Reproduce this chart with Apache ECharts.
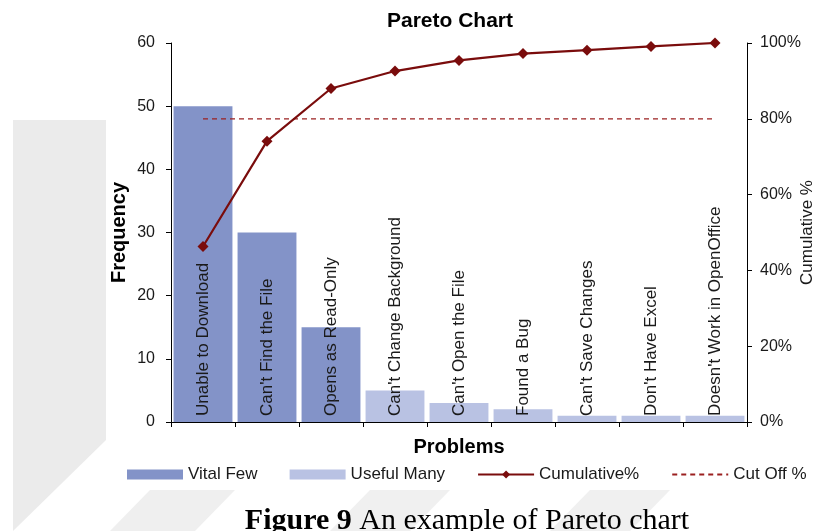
<!DOCTYPE html>
<html>
<head>
<meta charset="utf-8">
<script src="https://cdn.jsdelivr.net/npm/echarts@6/dist/echarts.min.js"></script>
<style>
    html, body { margin: 0; padding: 0; background: #fff; }
    #chart { width: 816px; height: 531px; }
</style>
</head>
<body>
<div id="chart"></div>
<script>
const problems = ['Unable to Download', "Can't Find the File", 'Opens as Read-Only', "Can't Change Background",
    "Can't Open the File", 'Found a Bug', "Can't Save Changes", "Don't Have Excel", "Doesn't Work in OpenOffice"];
const vitalFew = [50, 30, 15, '-', '-', '-', '-', '-', '-'];
const usefulMany = ['-', '-', '-', 5, 3, 2, 1, 1, 1];
const cumulative = [46.3, 74.1, 88.0, 92.6, 95.4, 97.2, 98.1, 99.1, 100];
const cutOff = [80, 80, 80, 80, 80, 80, 80, 80, 80];
const freqTicks = { min: 0, max: 60, interval: 10 };
const pctTicks = { min: 0, max: 100, interval: 20 };

const chart = echarts.init(document.getElementById('chart'));
const font = 'Liberation Sans, Arial, sans-serif';

// category names are written inside the bars, bottom to top
const catLabel = {
    show: true,
    position: 'insideBottom',
    rotate: 90,
    align: 'left',
    verticalAlign: 'middle',
    distance: 6,
    color: '#1a1a1a',
    fontSize: 17,
    fontFamily: font,
    formatter: (p) => p.name,
};

const option = {
    backgroundColor: '#fff',
    textStyle: { fontFamily: font },
    title: {
        text: 'Pareto Chart',
        left: 445,
        textAlign: 'center',
        top: 6,
        textStyle: { fontSize: 21, fontWeight: 'bold', color: '#000', fontFamily: font },
    },
    graphic: [
        // faint watermark shapes in the background
        { type: 'polygon', z: -10, shape: { points: [[13, 120], [106, 120], [106, 440], [13, 531]] }, style: { fill: '#ebebeb' } },
        { type: 'polygon', z: -10, shape: { points: [[150, 490], [235, 490], [195, 531], [110, 531]] }, style: { fill: '#efefef' } },
        { type: 'polygon', z: -10, shape: { points: [[370, 490], [450, 490], [410, 531], [330, 531]] }, style: { fill: '#f0f0f0' } },
        { type: 'polygon', z: -10, shape: { points: [[590, 490], [670, 490], [630, 531], [550, 531]] }, style: { fill: '#f0f0f0' } },
        {
            type: 'text',
            x: 467,
            y: 506,
            style: {
                text: '{b|Figure 9} An example of Pareto chart',
                font: '30px "Liberation Serif", "Times New Roman", serif',
                fill: '#000',
                align: 'center',
                verticalAlign: 'top',
                rich: { b: { fontWeight: 'bold', fontSize: 30, fontFamily: 'Liberation Serif' } },
            },
        },
    ],
    legend: {
        left: 122,
        top: 461,
        itemWidth: 56,
        itemHeight: 10,
        itemGap: 32,
        textStyle: { fontSize: 17, color: '#1a1a1a', fontFamily: font },
        data: [
            { name: 'Vital Few', icon: 'rect' },
            { name: 'Useful Many', icon: 'rect' },
            'Cumulative%',
            { name: 'Cut Off %', itemStyle: { opacity: 0 } },
        ],
    },
    grid: { left: 171, right: 69, top: 43, bottom: 109, containLabel: false, outerBoundsMode: 'none' },
    xAxis: {
        type: 'category',
        data: problems,
        name: 'Problems',
        nameLocation: 'middle',
        nameGap: 15,
        nameMoveOverlap: false,
        nameTextStyle: { fontSize: 20, fontWeight: 'bold', color: '#000' },
        axisLine: { lineStyle: { color: '#000', width: 1 } },
        axisTick: { show: true, interval: 0, length: 5, lineStyle: { color: '#000' } },
        axisLabel: { show: false },
    },
    yAxis: [
        {
            type: 'value',
            ...freqTicks,
            name: 'Frequency',
            nameLocation: 'middle',
            nameGap: 42,
            nameMoveOverlap: false,
            nameTextStyle: { fontSize: 20, fontWeight: 'bold', color: '#000' },
            axisLine: { show: true, lineStyle: { color: '#000' } },
            axisTick: { show: true, length: 5, lineStyle: { color: '#000' } },
            axisLabel: { fontSize: 16, color: '#1a1a1a', margin: 16 },
            splitLine: { show: false },
        },
        {
            type: 'value',
            ...pctTicks,
            name: 'Cumulative %',
            nameLocation: 'middle',
            nameGap: 52,
            nameMoveOverlap: false,
            nameTextStyle: { fontSize: 17, color: '#1a1a1a' },
            axisLine: { show: true, lineStyle: { color: '#000' } },
            axisTick: { show: true, length: 5, lineStyle: { color: '#000' } },
            axisLabel: { fontSize: 16, color: '#1a1a1a', margin: 13, formatter: '{value}%' },
            splitLine: { show: false },
        },
    ],
    series: [
        {
            name: 'Vital Few',
            type: 'bar',
            stack: 'freq',
            barCategoryGap: '8%',
            data: vitalFew,
            itemStyle: { color: '#8393c8' },
            label: catLabel,
        },
        {
            name: 'Useful Many',
            type: 'bar',
            stack: 'freq',
            data: usefulMany,
            itemStyle: { color: '#b9c2e3' },
            label: catLabel,
        },
        {
            name: 'Cut Off %',
            type: 'line',
            yAxisIndex: 1,
            data: cutOff,
            symbol: 'none',
            lineStyle: { color: '#9b2020', width: 1.2, type: [5, 4] },
            itemStyle: { color: '#9b2020' },
            z: 3,
        },
        {
            name: 'Cumulative%',
            type: 'line',
            yAxisIndex: 1,
            data: cumulative,
            symbol: 'diamond',
            symbolSize: 11,
            lineStyle: { color: '#7a0c0c', width: 2.2 },
            itemStyle: { color: '#7a0c0c' },
            z: 4,
        },
    ],
};

chart.setOption(option);
</script>
</body>
</html>
